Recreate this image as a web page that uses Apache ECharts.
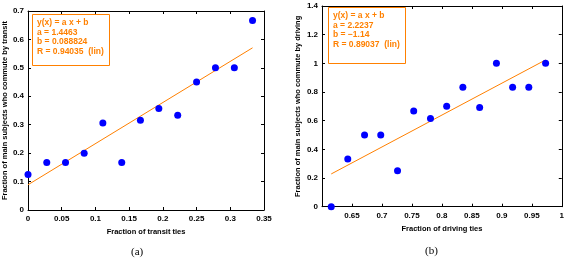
<!DOCTYPE html>
<html><head><meta charset="utf-8">
<script src="https://cdn.jsdelivr.net/npm/echarts@6/dist/echarts.min.js"></script>
<style>html,body{margin:0;padding:0;background:#fff}#c{width:567px;height:259px}</style>
</head><body><div id="c"></div>
<script>
// Panel (a): transit
const transitX = [0, 0.0278, 0.0556, 0.0833, 0.111, 0.139, 0.1667, 0.194, 0.222, 0.25, 0.278, 0.306, 0.333];
const transitY = [0.125, 0.167, 0.167, 0.2, 0.306, 0.167, 0.316, 0.357, 0.333, 0.45, 0.5, 0.5, 0.667];
const transitFitX = [0, 0.333];
const transitFitY = [0.0888, 0.5705];
const transitLegend = ["y(x) = a x + b", "a = 1.4463", "b = 0.088824", "R = 0.94035  (lin)"];
const transitXTicks = [0, 0.35, 0.05];
const transitYTicks = [0, 0.7, 0.1];
// Panel (b): driving
const drivingX = [0.6154, 0.643, 0.671, 0.698, 0.726, 0.753, 0.781, 0.808, 0.835, 0.863, 0.891, 0.918, 0.945, 0.973];
const drivingY = [0, 0.333, 0.5, 0.5, 0.25, 0.667, 0.615, 0.7, 0.833, 0.692, 1, 0.833, 0.833, 1];
const drivingFitX = [0.6154, 0.973];
const drivingFitY = [0.2285, 1.0237];
const drivingLegend = ["y(x) = a x + b", "a = 2.2237", "b = \u22121.14", "R = 0.89037  (lin)"];
const drivingXTicks = [0.6, 1, 0.05];
const drivingYTicks = [0, 1.4, 0.2];
const xNames = ["Fraction of transit ties", "Fraction of driving ties"];
const yNames = ["Fraction of main subjects who commute by transit", "Fraction of main subjects who commute by driving"];
const captions = ["(a)", "(b)"];

const FONT = "Liberation Sans";
const ORANGE = "#ff8000";
const lbl = {fontFamily: FONT, fontSize: 8, color: "#000", fontWeight: "bold"};
function fmt(v){ return String(+v.toFixed(2)); }

function mkX(idx, ticks, name, gap, hideFirst, pos){
  const main = pos === 'bottom';
  return {
    type: 'value', gridIndex: idx, position: pos, min: ticks[0], max: ticks[1], interval: ticks[2],
    name: main ? name : '', nameLocation: 'middle', nameGap: gap,
    nameTextStyle: {fontFamily: FONT, fontSize: 7.5, fontWeight: 'bold', color: '#000'},
    axisLine: {show: true, onZero: false, lineStyle: {color: '#000', width: 1}},
    axisTick: {show: true, inside: true, length: 3, lineStyle: {color: '#000'}},
    axisLabel: {show: main, ...lbl, margin: 5, formatter: v => (hideFirst && v < ticks[0] + 1e-6) ? '' : fmt(v)},
    splitLine: {show: false}
  };
}
function mkY(idx, ticks, name, gap, pos){
  const main = pos === 'left';
  return {
    type: 'value', gridIndex: idx, position: pos, min: ticks[0], max: ticks[1], interval: ticks[2],
    name: main ? name : '', nameLocation: 'middle', nameGap: gap,
    nameTextStyle: {fontFamily: FONT, fontSize: 7.5, fontWeight: 'bold', color: '#000'},
    axisLine: {show: true, onZero: false, lineStyle: {color: '#000', width: 1}},
    axisTick: {show: true, inside: true, length: 3, lineStyle: {color: '#000'}},
    axisLabel: {show: main, ...lbl, margin: 4, formatter: v => fmt(v)},
    splitLine: {show: false}
  };
}
function pairs(xs, ys){ return xs.map((x, i) => [x, ys[i]]); }

function legendGraphic(lines, x, y, w, h){
  const els = [{type: 'rect', left: x, top: y, shape: {width: w, height: h}, style: {fill: '#fff', stroke: ORANGE, lineWidth: 1}, z: 100}];
  lines.forEach((t, i) => els.push({type: 'text', left: x + 5, top: y + 4 + i * 9.8, style: {text: t, fill: ORANGE, font: 'bold 8.5px "Liberation Sans"'}, z: 101}));
  return els;
}

const chart = echarts.init(document.getElementById('c'), null, {renderer: 'canvas'});
chart.setOption({
  animation: false,
  backgroundColor: '#fff',
  grid: [
    {left: 26, top: 11, right: 303, bottom: 49},
    {left: 322, top: 6, right: 1.5, bottom: 52.3}
  ],
  xAxis: [
    mkX(0, transitXTicks, xNames[0], 11, false, 'bottom'),
    mkX(0, transitXTicks, '', 0, false, 'top'),
    mkX(1, drivingXTicks, xNames[1], 12, true, 'bottom'),
    mkX(1, drivingXTicks, '', 0, true, 'top')
  ],
  yAxis: [
    mkY(0, transitYTicks, yNames[0], 18, 'left'),
    mkY(0, transitYTicks, '', 0, 'right'),
    mkY(1, drivingYTicks, yNames[1], 20, 'left'),
    mkY(1, drivingYTicks, '', 0, 'right')
  ],
  series: [
    {type: 'line', xAxisIndex: 0, yAxisIndex: 0, data: pairs(transitFitX, transitFitY), symbol: 'none', lineStyle: {color: ORANGE, width: 1}, z: 3},
    {type: 'scatter', xAxisIndex: 0, yAxisIndex: 0, data: pairs(transitX, transitY), symbol: 'circle', symbolSize: 7, itemStyle: {color: '#0000ff', opacity: 1}, z: 4},
    {type: 'line', xAxisIndex: 2, yAxisIndex: 2, data: pairs(drivingFitX, drivingFitY), symbol: 'none', lineStyle: {color: ORANGE, width: 1}, z: 3},
    {type: 'scatter', xAxisIndex: 2, yAxisIndex: 2, data: pairs(drivingX, drivingY), symbol: 'circle', symbolSize: 7, itemStyle: {color: '#0000ff', opacity: 1}, z: 4}
  ],
  graphic: [
    ...legendGraphic(transitLegend, 32, 14, 77, 51),
    ...legendGraphic(drivingLegend, 328, 7, 77, 56),
    {type: 'text', left: 131, top: 247, style: {text: captions[0], fill: '#000', font: '11px "Liberation Serif"'}},
    {type: 'text', left: 425, top: 246, style: {text: captions[1], fill: '#000', font: '11px "Liberation Serif"'}}
  ]
});
</script>
</body></html>
